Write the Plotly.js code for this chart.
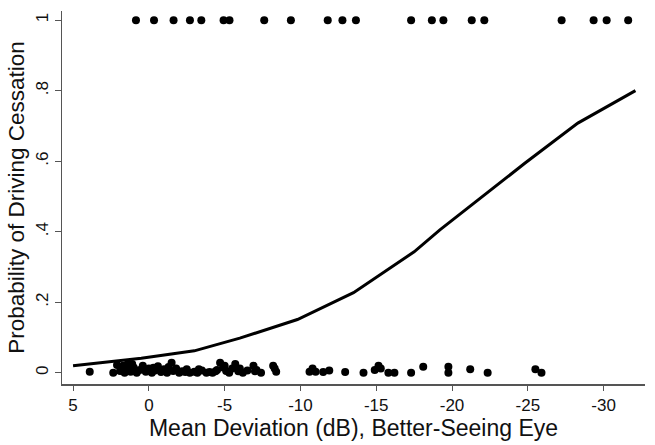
<!DOCTYPE html>
<html>
<head>
<meta charset="utf-8">
<script src="https://cdn.plot.ly/plotly-3.0.1.min.js"></script>
<style>
  html, body { margin: 0; padding: 0; background: #fff; }
  #grafico { width: 655px; height: 445px; }
</style>
</head>
<body>
<div id="grafico"></div>
<script>
// patients who stopped driving (y = 1)
const mdCesaron = [0.85, -0.34, -1.63, -2.71, -3.46, -4.93, -5.32, -7.61, -9.37, -11.8, -12.77,
  -13.66, -17.3, -18.67, -19.43, -21.3, -22.13, -27.23, -29.34, -30.2, -31.62];
const yCesaron = mdCesaron.map(() => 1);

// patients still driving (y = 0, jittered)
const mdSiguen = [3.9, 2.35, 2.1, 1.9, 1.7, 1.6, 1.4, 1.3, 1.2, 1.1, 1.0, 0.8, 0.6, 0.4, 0.2, 0, -0.2,
  -0.4, -0.6, -0.8, -1.0, -1.2, -1.5, -1.6, -1.8, -2.0, -2.2, -2.5, -2.7, -3.0, -3.2, -3.5, -3.8,
  -4.0, -4.2, -4.5, -4.7, -4.9, -5.1, -5.3, -5.5, -5.7, -5.9, -6.2, -6.5, -6.9, -7.1, -7.4,
  -8.2, -8.3, -8.4, -10.6, -10.8, -11.0, -11.5, -11.9, -12.95, -14.16, -14.9, -15.15, -15.3,
  -15.8, -16.2, -17.3, -18.1, -19.76, -19.76, -21.2, -22.35, -25.5, -25.9,
  1.5, 0.9, 0.3, -0.3, -0.9, -1.3, -2.4, -3.3, -4.4, -5.0, -6.0, -7.0];
const ySiguen = [0.003, 0, 0.022, 0.005, 0.02, 0, 0.025, 0.01, 0.003, 0.025, 0.015, 0, 0.008, 0.02,
  0.003, 0.012, 0, 0.006, 0.018, 0.002, 0.01, 0, 0.028, 0.005, 0.012, 0, 0.004, 0.01, 0, 0.003,
  0, 0.006, 0, 0.002, 0, 0.008, 0.028, 0.015, 0.005, 0, 0.012, 0.025, 0.004, 0, 0.006, 0.02,
  0.008, 0, 0.02, 0.012, 0.003, 0.003, 0.012, 0.003, 0.002, 0.006, 0.002, 0, 0.008, 0.02, 0.012,
  0, 0, 0, 0.017, 0.017, 0, 0.01, 0, 0.01, 0,
  0.012, 0.006, 0.01, 0.014, 0.006, 0.016, 0.002, 0.01, 0.004, 0.02, 0.012, 0.004];

// fitted probability
const mdCurva = [5, 0.5, -3, -6, -9.8, -13.5, -17.5, -19.2, -24.8, -28.3, -32.1];
const pCurva = [0.02, 0.041, 0.062, 0.098, 0.151, 0.227, 0.343, 0.405, 0.594, 0.708, 0.8];

const xTicks = [5, 0, -5, -10, -15, -20, -25, -30];
const xTickText = ['5', '0', '-5', '-10', '-15', '-20', '-25', '-30'];
const yTicks = [0, 0.2, 0.4, 0.6, 0.8, 1];
const yTickText = ['0', '.2', '.4', '.6', '.8', '1'];

const fuente = 'Liberation Sans, Arial, sans-serif';

const trazos = [
  {
    x: mdCesaron, y: yCesaron, type: 'scatter', mode: 'markers',
    marker: { color: '#000', size: 8 }, cliponaxis: false
  },
  {
    x: mdSiguen, y: ySiguen, type: 'scatter', mode: 'markers',
    marker: { color: '#000', size: 8 }, cliponaxis: false
  },
  {
    x: mdCurva, y: pCurva, type: 'scatter', mode: 'lines',
    line: { color: '#000', width: 3 }
  }
];

const layout = {
  width: 655, height: 445,
  margin: { l: 62, r: 10, t: 11, b: 61 },
  paper_bgcolor: '#fff', plot_bgcolor: '#fff',
  showlegend: false,
  font: { family: fuente, color: '#111' },
  xaxis: {
    range: [5.73, -32.73],
    tickvals: xTicks, ticktext: xTickText,
    ticks: 'outside', ticklen: 5, tickwidth: 1, tickcolor: '#555',
    showline: true, linecolor: '#555', linewidth: 1.5,
    showgrid: false, zeroline: false,
    tickfont: { size: 17 },
    title: { text: 'Mean Deviation (dB), Better-Seeing Eye', font: { size: 23 }, standoff: 0 },
    automargin: false
  },
  yaxis: {
    range: [-0.032, 1.026],
    tickvals: yTicks, ticktext: yTickText,
    tickangle: -90,
    ticks: 'outside', ticklen: 6, tickwidth: 1, tickcolor: '#555',
    showline: true, linecolor: '#555', linewidth: 1.5,
    showgrid: false, zeroline: false,
    tickfont: { size: 17 },
    title: { text: 'Probability of Driving Cessation', font: { size: 22.5 }, standoff: 2 },
    automargin: false
  }
};

Plotly.newPlot('grafico', trazos, layout, { staticPlot: true });
</script>
</body>
</html>
